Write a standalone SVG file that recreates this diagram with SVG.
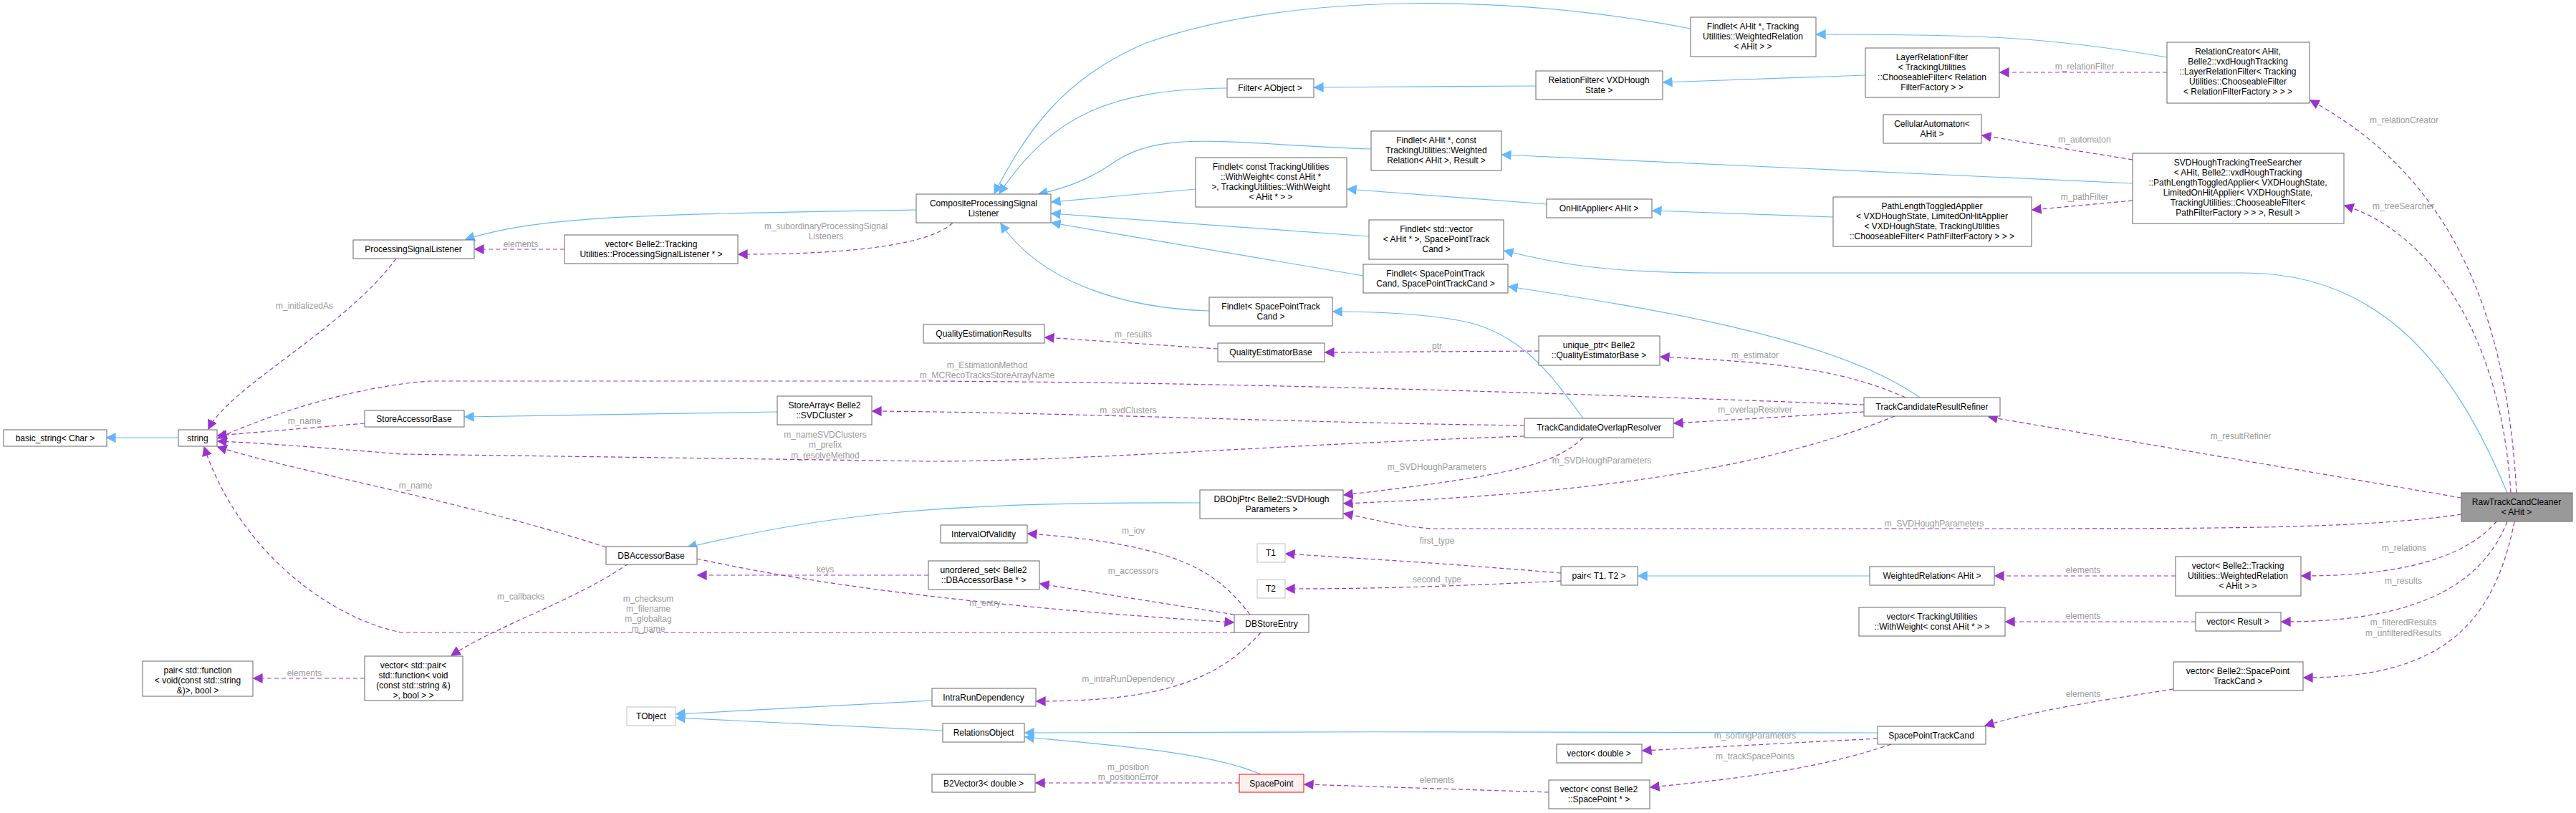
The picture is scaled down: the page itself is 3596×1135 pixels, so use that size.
<svg xmlns="http://www.w3.org/2000/svg" width="3596" height="1135" viewBox="0 0 3596 1135">
<defs>
<marker id="ab" viewBox="0 0 10 10" refX="9" refY="5" markerWidth="14" markerHeight="14" markerUnits="userSpaceOnUse" orient="auto"><path d="M0,0 L10,5 L0,10 z" fill="#63b8ff"/></marker>
<marker id="ap" viewBox="0 0 10 10" refX="9" refY="5" markerWidth="14" markerHeight="14" markerUnits="userSpaceOnUse" orient="auto"><path d="M0,0 L10,5 L0,10 z" fill="#9a32cd"/></marker>
</defs>
<style>
.n rect{fill:#fff;stroke:#666;stroke-width:1}
.n.g rect{stroke:#bfbfbf}
.n.r rect{fill:#fff0f0;stroke:#ff0000}
.n.c rect{fill:#999;stroke:#666}
text{font-family:"Liberation Sans",Arial,sans-serif;font-size:12px}
.n text{fill:#000;text-anchor:middle}
.b{fill:none;stroke:#63b8ff;stroke-width:1.2;marker-end:url(#ab)}
.p{fill:none;stroke:#9a32cd;stroke-width:1.2;stroke-dasharray:6,4;marker-end:url(#ap)}
.l{fill:#9a9a9a;text-anchor:middle}
</style>
<rect width="3596" height="1135" fill="#fff"/>
<g id="connectors">
<path class="b" d="M249,611 L149,611"/>
<path class="b" d="M1279,293 C900,300 760,300 650,334"/>
<path class="b" d="M1713,123 C1550,125 1470,160 1395,270"/>
<path class="b" d="M2360,40 C2100,-10 1800,-10 1600,60 C1480,110 1430,190 1388,270"/>
<path class="b" d="M1914,208 C1700,200 1620,180 1550,230 C1520,250 1490,262 1450,271"/>
<path class="b" d="M1669,264 L1468,282"/>
<path class="b" d="M1911,330 L1468,298"/>
<path class="b" d="M1903,385 L1468,311"/>
<path class="b" d="M1688,434 C1560,430 1450,390 1397,312"/>
<path class="b" d="M3025,80 C2850,50 2750,48 2536,48"/>
<path class="b" d="M2144,120 L1835,122"/>
<path class="b" d="M2604,105 L2322,115"/>
<path class="b" d="M2977,256 L2097,216"/>
<path class="b" d="M2159,285 L1881,264"/>
<path class="b" d="M2559,303 L2307,294"/>
<path class="b" d="M3500,688 C3430,520 3330,381 3133,381 L2400,381 C2250,381 2180,370 2100,350"/>
<path class="b" d="M2680,555 C2560,470 2300,430 2106,400"/>
<path class="b" d="M2210,584 C2170,530 2130,470 2050,450 C1990,437 1920,435 1861,435"/>
<path class="b" d="M1085,575 L649,582"/>
<path class="b" d="M1675,702 C1300,700 1150,720 960,764"/>
<path class="b" d="M2610,804 L2287,804"/>
<path class="b" d="M1301,978 L944,997"/>
<path class="b" d="M1316,1020 L944,1002"/>
<path class="b" d="M2621,1023 C2400,1020 1800,1022 1431,1023"/>
<path class="b" d="M1760,1081 C1690,1050 1550,1040 1431,1029"/>

<path class="p" d="M788,348 L663,348"/>
<path class="p" d="M1330,311 C1300,340 1200,355 1031,355"/>
<path class="p" d="M553,361 C480,460 320,540 291,599"/>
<path class="p" d="M509,591 L304,608"/>
<path class="p" d="M2602,565 C2200,550 1800,535 1300,532 L600,532 C480,540 350,590 304,612"/>
<path class="p" d="M2128,609 C1800,620 1500,644 1300,644 L560,634 C450,625 360,618 304,616"/>
<path class="p" d="M846,764 C650,700 420,660 304,624"/>
<path class="p" d="M1723,883 C1650,883 1600,883 1400,883 L560,883 C450,860 330,760 285,624"/>
<path class="p" d="M2128,594 C1800,590 1500,576 1218,574"/>
<path class="p" d="M1700,487 L1459,471"/>
<path class="p" d="M2148,490 L1850,492"/>
<path class="p" d="M2660,555 C2560,510 2450,505 2318,498"/>
<path class="p" d="M2602,575 L2337,591"/>
<path class="p" d="M2210,611 C2170,650 2100,665 1876,691"/>
<path class="p" d="M2645,581 C2450,660 2200,690 1876,703"/>
<path class="p" d="M3436,718 C3300,738 3100,738 2800,738 L2000,738 C1950,735 1920,725 1876,717"/>
<path class="p" d="M3436,695 L2776,582"/>
<path class="p" d="M3513,688 C3500,450 3430,250 3225,140"/>
<path class="p" d="M3505,688 C3490,450 3380,320 3273,287"/>
<path class="p" d="M3025,101 L2792,101"/>
<path class="p" d="M2977,223 L2767,189"/>
<path class="p" d="M2977,280 L2837,293"/>
<path class="p" d="M1745,858 C1700,800 1650,760 1435,745"/>
<path class="p" d="M1723,858 L1452,815"/>
<path class="p" d="M1296,803 L974,803"/>
<path class="p" d="M973,780 C1200,830 1500,855 1722,869"/>
<path class="p" d="M877,787 C800,840 700,870 630,915"/>
<path class="p" d="M509,947 L354,947"/>
<path class="p" d="M1760,883 C1700,950 1620,979 1447,979"/>
<path class="p" d="M2179,800 C2000,785 1900,780 1795,773"/>
<path class="p" d="M2179,811 C2000,820 1900,822 1795,822"/>
<path class="p" d="M3037,804 L2785,804"/>
<path class="p" d="M3065,868 L2800,868"/>
<path class="p" d="M3485,728 C3440,780 3350,804 3213,804"/>
<path class="p" d="M3500,728 C3460,830 3350,868 3185,868"/>
<path class="p" d="M3510,728 C3480,880 3400,946 3216,946"/>
<path class="p" d="M3034,962 C2920,980 2850,990 2771,1013"/>
<path class="p" d="M2621,1031 L2293,1048"/>
<path class="p" d="M2640,1039 C2550,1070 2450,1085 2304,1099"/>
<path class="p" d="M2162,1106 L1821,1095"/>
<path class="p" d="M1730,1093 L1446,1093"/>

<text class="l" x="727" y="345">elements</text>
<text class="l" x="1153" y="320">m_subordinaryProcessingSignal</text>
<text class="l" x="1153" y="334">Listeners</text>
<text class="l" x="425" y="431">m_initializedAs</text>
<text class="l" x="425" y="592">m_name</text>
<text class="l" x="1378" y="514">m_EstimationMethod</text>
<text class="l" x="1378" y="528">m_MCRecoTracksStoreArrayName</text>
<text class="l" x="1152" y="611">m_nameSVDClusters</text>
<text class="l" x="1152" y="625">m_prefix</text>
<text class="l" x="1152" y="640">m_resolveMethod</text>
<text class="l" x="580" y="682">m_name</text>
<text class="l" x="905" y="840">m_checksum</text>
<text class="l" x="905" y="854">m_filename</text>
<text class="l" x="905" y="868">m_globaltag</text>
<text class="l" x="905" y="882">m_name</text>
<text class="l" x="1575" y="577">m_svdClusters</text>
<text class="l" x="1582" y="471">m_results</text>
<text class="l" x="2006" y="487">ptr</text>
<text class="l" x="2450" y="500">m_estimator</text>
<text class="l" x="2450" y="576">m_overlapResolver</text>
<text class="l" x="2006" y="656">m_SVDHoughParameters</text>
<text class="l" x="2236" y="647">m_SVDHoughParameters</text>
<text class="l" x="2700" y="735">m_SVDHoughParameters</text>
<text class="l" x="3128" y="613">m_resultRefiner</text>
<text class="l" x="3356" y="172">m_relationCreator</text>
<text class="l" x="3355" y="292">m_treeSearcher</text>
<text class="l" x="2910" y="97">m_relationFilter</text>
<text class="l" x="2910" y="199">m_automaton</text>
<text class="l" x="2910" y="279">m_pathFilter</text>
<text class="l" x="1582" y="745">m_iov</text>
<text class="l" x="1582" y="801">m_accessors</text>
<text class="l" x="1152" y="799">keys</text>
<text class="l" x="1375" y="846">m_entry</text>
<text class="l" x="727" y="837">m_callbacks</text>
<text class="l" x="425" y="944">elements</text>
<text class="l" x="1575" y="952">m_intraRunDependency</text>
<text class="l" x="2006" y="759">first_type</text>
<text class="l" x="2006" y="813">second_type</text>
<text class="l" x="2908" y="800">elements</text>
<text class="l" x="2908" y="864">elements</text>
<text class="l" x="3356" y="769">m_relations</text>
<text class="l" x="3355" y="815">m_results</text>
<text class="l" x="3355" y="873">m_filteredResults</text>
<text class="l" x="3355" y="888">m_unfilteredResults</text>
<text class="l" x="2908" y="973">elements</text>
<text class="l" x="2450" y="1031">m_sortingParameters</text>
<text class="l" x="2450" y="1060">m_trackSpacePoints</text>
<text class="l" x="2006" y="1093">elements</text>
<text class="l" x="1575" y="1075">m_position</text>
<text class="l" x="1575" y="1089">m_positionError</text>
</g>

<g id="n1" class="n"><rect x="493" y="335" width="169" height="26"/><text x="577" y="352">ProcessingSignalListener</text></g>
<g id="n2" class="n"><rect x="788" y="328" width="242" height="40"/><text x="909" y="345">vector&lt; Belle2::Tracking</text><text x="909" y="359">Utilities::ProcessingSignalListener * &gt;</text></g>
<g id="n3" class="n"><rect x="1279" y="271" width="188" height="40"/><text x="1373" y="288">CompositeProcessingSignal</text><text x="1373" y="302">Listener</text></g>
<g id="n4" class="n"><rect x="1713" y="110" width="121" height="26"/><text x="1773" y="127">Filter&lt; AObject &gt;</text></g>
<g id="n5" class="n"><rect x="2360" y="24" width="175" height="55"/><text x="2447" y="41">Findlet&lt; AHit *, Tracking</text><text x="2447" y="55">Utilities::WeightedRelation</text><text x="2447" y="69">&lt; AHit &gt; &gt;</text></g>
<g id="n6" class="n"><rect x="2144" y="99" width="177" height="40"/><text x="2232" y="116">RelationFilter&lt; VXDHough</text><text x="2232" y="130">State &gt;</text></g>
<g id="n7" class="n"><rect x="2604" y="67" width="187" height="69"/><text x="2697" y="84">LayerRelationFilter</text><text x="2697" y="98">&lt; TrackingUtilities</text><text x="2697" y="112">::ChooseableFilter&lt; Relation</text><text x="2697" y="126">FilterFactory &gt; &gt;</text></g>
<g id="n8" class="n"><rect x="2629" y="160" width="137" height="40"/><text x="2697" y="177">CellularAutomaton&lt;</text><text x="2697" y="191">AHit &gt;</text></g>
<g id="n9" class="n"><rect x="3025" y="59" width="199" height="85"/><text x="3124" y="76">RelationCreator&lt; AHit,</text><text x="3124" y="90">Belle2::vxdHoughTracking</text><text x="3124" y="104">::LayerRelationFilter&lt; Tracking</text><text x="3124" y="118">Utilities::ChooseableFilter</text><text x="3124" y="132">&lt; RelationFilterFactory &gt; &gt; &gt;</text></g>
<g id="n10" class="n"><rect x="2977" y="214" width="295" height="98"/><text x="3124" y="231">SVDHoughTrackingTreeSearcher</text><text x="3124" y="245">&lt; AHit, Belle2::vxdHoughTracking</text><text x="3124" y="259">::PathLengthToggledApplier&lt; VXDHoughState,</text><text x="3124" y="273">LimitedOnHitApplier&lt; VXDHoughState,</text><text x="3124" y="287">TrackingUtilities::ChooseableFilter&lt;</text><text x="3124" y="301">PathFilterFactory &gt; &gt; &gt;, Result &gt;</text></g>
<g id="n11" class="n"><rect x="1914" y="183" width="182" height="55"/><text x="2005" y="200">Findlet&lt; AHit *, const</text><text x="2005" y="214">TrackingUtilities::Weighted</text><text x="2005" y="228">Relation&lt; AHit &gt;, Result &gt;</text></g>
<g id="n12" class="n"><rect x="1669" y="220" width="211" height="69"/><text x="1774" y="237">Findlet&lt; const TrackingUtilities</text><text x="1774" y="251">::WithWeight&lt; const AHit *</text><text x="1774" y="265">&gt;, TrackingUtilities::WithWeight</text><text x="1774" y="279">&lt; AHit * &gt; &gt;</text></g>
<g id="n13" class="n"><rect x="2159" y="278" width="147" height="26"/><text x="2232" y="295">OnHitApplier&lt; AHit &gt;</text></g>
<g id="n14" class="n"><rect x="2559" y="275" width="277" height="69"/><text x="2697" y="292">PathLengthToggledApplier</text><text x="2697" y="306">&lt; VXDHoughState, LimitedOnHitApplier</text><text x="2697" y="320">&lt; VXDHoughState, TrackingUtilities</text><text x="2697" y="334">::ChooseableFilter&lt; PathFilterFactory &gt; &gt; &gt;</text></g>
<g id="n15" class="n"><rect x="1911" y="307" width="188" height="55"/><text x="2005" y="324">Findlet&lt; std::vector</text><text x="2005" y="338">&lt; AHit * &gt;, SpacePointTrack</text><text x="2005" y="352">Cand &gt;</text></g>
<g id="n16" class="n"><rect x="1903" y="369" width="202" height="40"/><text x="2004" y="386">Findlet&lt; SpacePointTrack</text><text x="2004" y="400">Cand, SpacePointTrackCand &gt;</text></g>
<g id="n17" class="n"><rect x="1688" y="415" width="172" height="40"/><text x="1774" y="432">Findlet&lt; SpacePointTrack</text><text x="1774" y="446">Cand &gt;</text></g>
<g id="n18" class="n"><rect x="1289" y="453" width="169" height="26"/><text x="1373" y="470">QualityEstimationResults</text></g>
<g id="n19" class="n"><rect x="1700" y="479" width="149" height="26"/><text x="1774" y="496">QualityEstimatorBase</text></g>
<g id="n20" class="n"><rect x="2148" y="469" width="169" height="41"/><text x="2232" y="486">unique_ptr&lt; Belle2</text><text x="2232" y="500">::QualityEstimatorBase &gt;</text></g>
<g id="n21" class="n"><rect x="2602" y="555" width="190" height="26"/><text x="2697" y="572">TrackCandidateResultRefiner</text></g>
<g id="n22" class="n"><rect x="1085" y="553" width="132" height="40"/><text x="1151" y="570">StoreArray&lt; Belle2</text><text x="1151" y="584">::SVDCluster &gt;</text></g>
<g id="n23" class="n"><rect x="2128" y="584" width="208" height="27"/><text x="2232" y="601">TrackCandidateOverlapResolver</text></g>
<g id="n24" class="n"><rect x="1675" y="684" width="200" height="40"/><text x="1775" y="701">DBObjPtr&lt; Belle2::SVDHough</text><text x="1775" y="715">Parameters &gt;</text></g>
<g id="n25" class="n c"><rect x="3436" y="688" width="155" height="40"/><text x="3513" y="705">RawTrackCandCleaner</text><text x="3513" y="719">&lt; AHit &gt;</text></g>
<g id="n26" class="n"><rect x="1313" y="733" width="121" height="25"/><text x="1373" y="750">IntervalOfValidity</text></g>
<g id="n27" class="n"><rect x="846" y="763" width="127" height="25"/><text x="909" y="780">DBAccessorBase</text></g>
<g id="n28" class="n"><rect x="1296" y="783" width="155" height="40"/><text x="1373" y="800">unordered_set&lt; Belle2</text><text x="1373" y="814">::DBAccessorBase * &gt;</text></g>
<g id="n29" class="n g"><rect x="1755" y="759" width="39" height="26"/><text x="1774" y="776">T1</text></g>
<g id="n30" class="n g"><rect x="1755" y="809" width="39" height="26"/><text x="1774" y="826">T2</text></g>
<g id="n31" class="n"><rect x="1723" y="858" width="104" height="25"/><text x="1775" y="875">DBStoreEntry</text></g>
<g id="n32" class="n"><rect x="2179" y="791" width="107" height="26"/><text x="2232" y="808">pair&lt; T1, T2 &gt;</text></g>
<g id="n33" class="n"><rect x="2610" y="791" width="174" height="26"/><text x="2697" y="808">WeightedRelation&lt; AHit &gt;</text></g>
<g id="n34" class="n"><rect x="3037" y="777" width="175" height="55"/><text x="3124" y="794">vector&lt; Belle2::Tracking</text><text x="3124" y="808">Utilities::WeightedRelation</text><text x="3124" y="822">&lt; AHit &gt; &gt;</text></g>
<g id="n35" class="n"><rect x="2595" y="848" width="204" height="40"/><text x="2697" y="865">vector&lt; TrackingUtilities</text><text x="2697" y="879">::WithWeight&lt; const AHit * &gt; &gt;</text></g>
<g id="n36" class="n"><rect x="3065" y="855" width="119" height="26"/><text x="3124" y="872">vector&lt; Result &gt;</text></g>
<g id="n37" class="n"><rect x="3034" y="924" width="181" height="40"/><text x="3124" y="941">vector&lt; Belle2::SpacePoint</text><text x="3124" y="955">TrackCand &gt;</text></g>
<g id="n38" class="n"><rect x="2621" y="1014" width="151" height="25"/><text x="2696" y="1031">SpacePointTrackCand</text></g>
<g id="n39" class="n"><rect x="2173" y="1039" width="119" height="26"/><text x="2232" y="1056">vector&lt; double &gt;</text></g>
<g id="n40" class="n"><rect x="2162" y="1089" width="141" height="40"/><text x="2232" y="1106">vector&lt; const Belle2</text><text x="2232" y="1120">::SpacePoint * &gt;</text></g>
<g id="n41" class="n r"><rect x="1730" y="1081" width="90" height="25"/><text x="1775" y="1098">SpacePoint</text></g>
<g id="n42" class="n"><rect x="1301" y="1081" width="144" height="25"/><text x="1373" y="1098">B2Vector3&lt; double &gt;</text></g>
<g id="n43" class="n"><rect x="1316" y="1010" width="114" height="26"/><text x="1373" y="1027">RelationsObject</text></g>
<g id="n44" class="n"><rect x="1301" y="961" width="145" height="25"/><text x="1373" y="978">IntraRunDependency</text></g>
<g id="n45" class="n g"><rect x="875" y="987" width="68" height="26"/><text x="909" y="1004">TObject</text></g>
<g id="n46" class="n"><rect x="199" y="923" width="154" height="49"/><text x="276" y="940">pair&lt; std::function</text><text x="276" y="954">&lt; void(const std::string</text><text x="276" y="968">&amp;)&gt;, bool &gt;</text></g>
<g id="n47" class="n"><rect x="509" y="916" width="137" height="62"/><text x="577" y="933">vector&lt; std::pair&lt;</text><text x="577" y="947">std::function&lt; void</text><text x="577" y="961">(const std::string &amp;)</text><text x="577" y="975">&gt;, bool &gt; &gt;</text></g>
<g id="n48" class="n"><rect x="509" y="573" width="139" height="23"/><text x="578" y="589">StoreAccessorBase</text></g>
<g id="n49" class="n"><rect x="249" y="600" width="54" height="23"/><text x="276" y="616">string</text></g>
<g id="n50" class="n"><rect x="5" y="600" width="144" height="23"/><text x="77" y="616">basic_string&lt; Char &gt;</text></g>
</svg>
